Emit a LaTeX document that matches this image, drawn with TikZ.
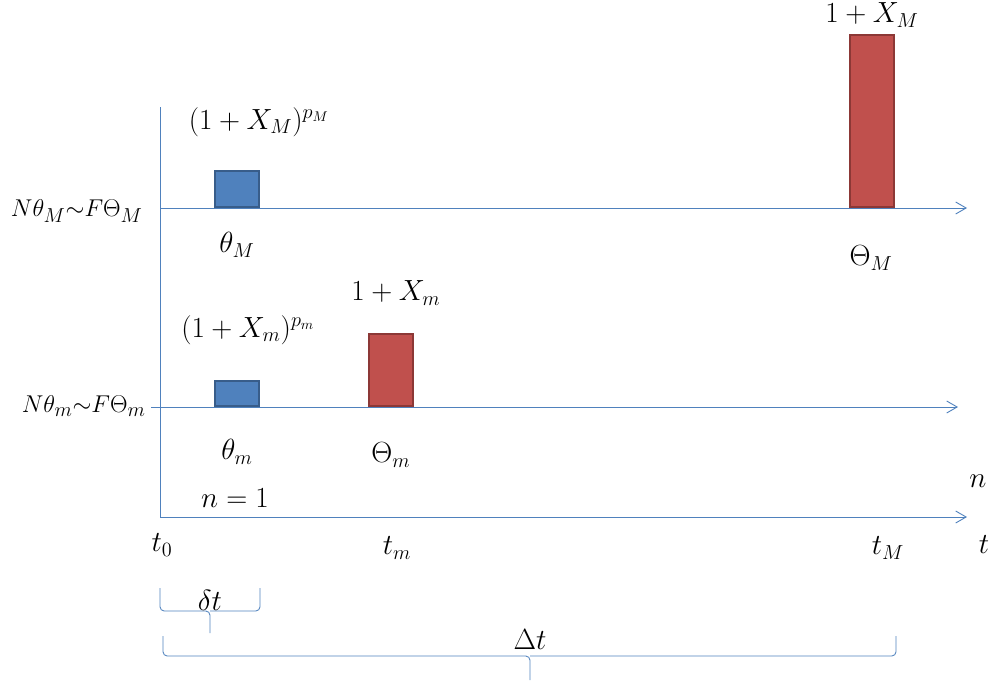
\documentclass[tikz,border=0pt]{standalone}
\usepackage{amsmath,amssymb}
\usetikzlibrary{arrows.meta,positioning}
\definecolor{barblue}{HTML}{4F81BD}
\definecolor{barred}{HTML}{C0504D}
\definecolor{edgeblue}{HTML}{385D8A}
\definecolor{edgered}{HTML}{8C3836}
\tikzset{
  bbar/.style={draw=edgeblue, fill=barblue, line width=1.5pt, minimum width=1.12cm, inner sep=0pt, anchor=south},
  rbar/.style={draw=edgered, fill=barred, line width=1.5pt, minimum width=1.12cm, inner sep=0pt, anchor=south},
  ax/.style={-{Straight Barb[length=2.6mm,width=3mm]}, draw=barblue, line width=0.65pt},
  axl/.style={draw=barblue, line width=0.65pt},
  brc/.style={draw=barblue, line width=0.6pt, rounded corners=3pt},
  lbl/.style={font=\fontsize{20}{24}\selectfont, inner sep=0pt},
  rlbl/.style={font=\fontsize{19}{23}\selectfont, inner sep=0pt, anchor=east},
}

\begin{document}
\begin{tikzpicture}[x=0.025cm, y=-0.025cm]
\useasboundingbox (0,0) rectangle (992,685);
% axes
\coordinate (top) at (160,107);
\coordinate (o) at (160,517);
\coordinate (tend) at (967,517);
\coordinate (aM0) at (160,208);
\coordinate (aM1) at (967,208);
\coordinate (am0) at (151,407);
\coordinate (am1) at (958,407);
\draw[axl] (top) -- (o);
\draw[ax] (o) -- (tend);
\draw[ax] (aM0) -- (aM1);
\draw[ax] (am0) -- (am1);
% bars
\node[bbar, minimum height=0.9cm] (thM) at (237,208) {};
\node[bbar, minimum height=0.62cm] (thm) at (237,407) {};
\node[rbar, minimum height=1.8cm] (Thm) at (391,407) {};
\node[rbar, minimum height=4.3cm] (ThM) at (872,208) {};
% labels
\node[lbl] (pM) at (259,122) {$(1+X_M)^{p_M}$};
\node[lbl] (thMl) at (237,245) {$\theta_M$};
\node[lbl] (XM) at (872,15) {$1+X_M$};
\node[lbl] (ThMl) at (871,258) {$\Theta_M$};
\node[lbl] (Xm) at (396,293) {$1+X_m$};
\node[lbl] (pm) at (248,330) {$(1+X_m)^{p_m}$};
\node[lbl] (thml) at (237,452) {$\theta_m$};
\node[lbl] (Thml) at (391,455) {$\Theta_m$};
\node[rlbl] (eqM) at (143,211) {$N\theta_M{\sim}F\Theta_M$};
\node[rlbl] (eqm) at (146,406) {$N\theta_m{\sim}F\Theta_m$};
\node[lbl] (n1) at (235,498) {$n=1$};
\node[lbl] (n) at (978,481) {$n$};
\node[lbl] (t0) at (162,545) {$t_0$};
\node[lbl] (tm) at (397,548) {$t_m$};
\node[lbl] (tM) at (888,548) {$t_M$};
\node[lbl] (t) at (984,545) {$t$};
% braces
\draw[brc] (160,588) |- (210,611) -- (210,633);
\draw[brc] (260,588) |- (210,611);
\node[lbl] (dt) at (210,600) {$\delta t$};
\draw[brc] (163,636) |- (530,656) -- (530,680);
\draw[brc] (896,636) |- (530,656);
\node[lbl] (Dt) at (530,640) {$\Delta t$};
\end{tikzpicture}
\end{document}
